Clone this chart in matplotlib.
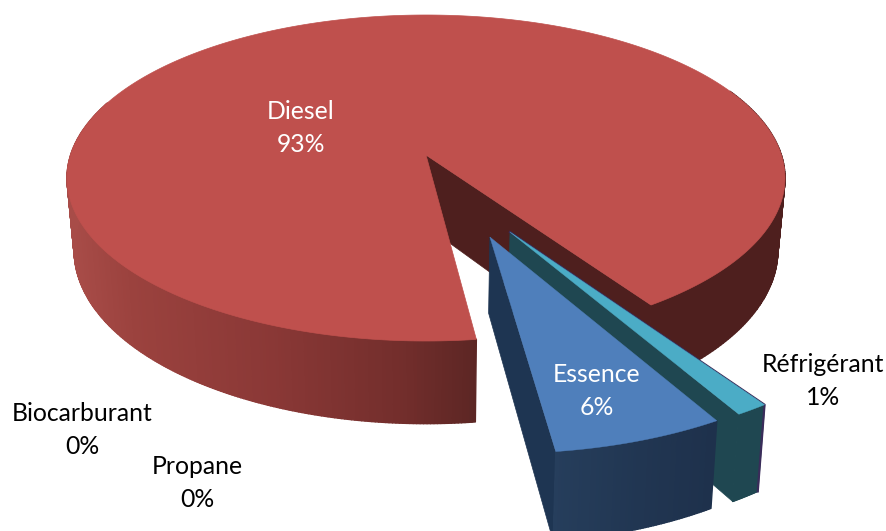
import numpy as np
import matplotlib
matplotlib.use("Agg")
import matplotlib.pyplot as plt
from matplotlib.collections import PolyCollection
from matplotlib.patches import Polygon

# parts du camembert, dans le sens horaire
noms = ["Diesel", "Réfrigérant", "Essence", "Propane", "Biocarburant"]
valeurs = [92.5, 1.2, 6.3, 0.0, 0.0]
etiquettes = ["93%", "1%", "6%", "0%", "0%"]

plt.rcParams['font.family'] = ['Lato', 'DejaVu Sans']

# ellipse du dessus (pixels) et perspective
CX, CY, RX, RY = 426, 178, 359, 163
E = 0.141
S = np.sqrt(1 - E**2)
D0 = 71  # epaisseur au centre
DEBUT = -56.0  # angle de fin du diesel, le reste part de la


def projette(x, y):
	w = 1 + E * y
	return CX + RX * x * S / w, CY - RY * (y + E) / w, w


def haut(x, y):
	px, py, w = projette(x, y)
	return np.column_stack([px, py])


def bas(x, y):
	px, py, w = projette(x, y)
	return np.column_stack([CX + (px - CX) * 0.98, py + D0 / w])


def bord(centre, a1, a2, n=120):
	t = np.radians(np.linspace(a1, a2, n))
	return centre[0] + np.cos(t), centre[1] + np.sin(t)


def paroi(ax, xr, yr, couleur, z):
	# paroi exterieure en petits quads pour avoir le degrade
	h = haut(xr, yr)
	b = bas(xr, yr)
	quads = []
	cols = []
	for i in range(len(h) - 1):
		quads.append([h[i], h[i + 1], b[i + 1], b[i]])
		cols.append(couleur((h[i][0] + h[i + 1][0]) / 2))
	ax.add_collection(PolyCollection(quads, facecolors=cols, edgecolors=cols, linewidths=1.0, zorder=z))


def coupe(ax, centre, angle, couleur, z):
	x2 = centre[0] + np.cos(np.radians(angle))
	y2 = centre[1] + np.sin(np.radians(angle))
	xs = np.array([centre[0], x2])
	ys = np.array([centre[1], y2])
	h = haut(xs, ys)
	b = bas(xs, ys)
	ax.add_patch(Polygon([h[0], h[1], b[1], b[0]], closed=True, fc=couleur, ec=couleur, lw=0.5, zorder=z))


def degrade(xs, rouges, verts, bleus):
	def f(x):
		return (np.interp(x, xs, rouges) / 255, np.interp(x, xs, verts) / 255, np.interp(x, xs, bleus) / 255)
	return f


fig = plt.figure(figsize=(8.86, 5.31), dpi=100)
ax = fig.add_axes([0, 0, 1, 1])
ax.set_xlim(0, 886)
ax.set_ylim(531, 0)
ax.axis("off")

# angles de chaque part a partir des valeurs
total = sum(valeurs)
debattement = [v / total * 360 for v in valeurs]
a_fin_ref = DEBUT - debattement[1]
a_fin_ess = a_fin_ref - debattement[2]
a_fin_die = a_fin_ess  # le diesel repart de la ou finit l'essence

# ecartement des parts (rayon, direction)
r_ess, dir_ess = 0.507, -70.7
r_ref, dir_ref = 0.503, -63.9
c_die = (0.0, 0.0)
c_ess = (r_ess * np.cos(np.radians(dir_ess)), r_ess * np.sin(np.radians(dir_ess)))
c_ref = (r_ref * np.cos(np.radians(dir_ref)), r_ref * np.sin(np.radians(dir_ref)))

#-----------DIESEL------------
sombre = "#4E1F1E"
coupe(ax, c_die, DEBUT, sombre, 1)
xr, yr = bord(c_die, DEBUT, 25)
paroi(ax, xr, yr, lambda x: sombre, 1)
xr, yr = bord(c_die, a_fin_die, -200, 240)
paroi(ax, xr, yr, degrade([70, 130, 270, 400, 476],
	[168, 155, 138, 115, 92], [76, 66, 56, 46, 38], [72, 62, 54, 44, 36]), 2)
xr, yr = bord(c_die, a_fin_die, a_fin_die - debattement[0], 400)
ax.add_patch(Polygon(np.vstack([haut(np.array([0.0]), np.array([0.0])), haut(xr, yr)]),
	closed=True, fc="#BF504D", ec="#BF504D", lw=0.5, zorder=3))

#-----------REFRIGERANT------------
teal = "#1F4751"
violet = "#3A2C5A"
coupe(ax, c_ref, a_fin_ref, teal, 4)
xr, yr = bord(c_ref, DEBUT, a_fin_ref, 30)
paroi(ax, xr, yr, lambda x: teal, 4)
# tranche vue de biais, juste un filet
xs = np.array([c_ref[0], c_ref[0] + np.cos(np.radians(DEBUT))])
ys = np.array([c_ref[1], c_ref[1] + np.sin(np.radians(DEBUT))])
h = haut(xs, ys)
b = bas(xs, ys)
ax.plot([h[0][0], h[1][0], b[1][0]], [h[0][1], h[1][1], b[1][1]], color=violet, lw=1.6, zorder=4)
xr, yr = bord(c_ref, DEBUT, a_fin_ref, 30)
ax.add_patch(Polygon(np.vstack([haut(np.array([c_ref[0]]), np.array([c_ref[1]])), haut(xr, yr)]),
	closed=True, fc="#4BACC6", ec="#4BACC6", lw=0.3, zorder=5))

#-----------ESSENCE------------
bleu_f = "#1E3552"
coupe(ax, c_ess, a_fin_ess, bleu_f, 6)
xr, yr = bord(c_ess, a_fin_ref, a_fin_ess, 60)
paroi(ax, xr, yr, degrade([553, 640, 714], [38, 33, 30], [62, 54, 49], [92, 82, 76]), 6)
ax.add_patch(Polygon(np.vstack([haut(np.array([c_ess[0]]), np.array([c_ess[1]])), haut(xr, yr)]),
	closed=True, fc="#4F7FBB", ec="#4F7FBB", lw=0.3, zorder=7))

#-----------ETIQUETTES------------
taille = 17.8
pos = {"Diesel": (301, 128), "Réfrigérant": (823, 381), "Essence": (597, 391),
	"Propane": (197, 483), "Biocarburant": (82, 430)}
for nom, et in zip(noms, etiquettes):
	c = "white" if nom in ("Diesel", "Essence") else "black"
	ax.text(pos[nom][0], pos[nom][1], nom + "\n" + et, color=c, fontsize=taille, ha="center", va="center",
		linespacing=1.48, zorder=10)

fig.savefig("out.png", dpi=100)
